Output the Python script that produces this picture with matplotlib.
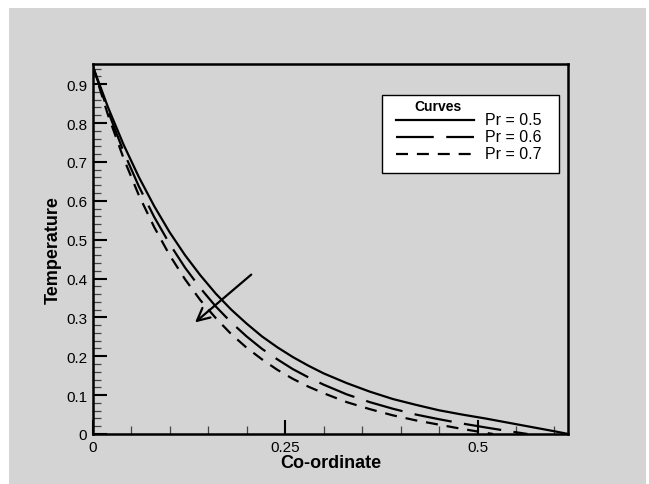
import matplotlib
matplotlib.use('Agg')
import matplotlib.pyplot as plt
import matplotlib.patches as mpatches
import matplotlib.lines as mlines
from matplotlib.ticker import MultipleLocator, FormatStrFormatter

plt.rcParams['font.family'] = ['Liberation Sans', 'DejaVu Sans']

# Temperature profiles
x_pr05 = [0.0, 0.02, 0.04, 0.06, 0.08, 0.10, 0.12, 0.14, 0.16, 0.18, 0.20, 0.22, 0.24,
          0.26, 0.28, 0.30, 0.33, 0.36, 0.39, 0.42, 0.45, 0.48, 0.51, 0.54, 0.57, 0.60, 0.618]
t_pr05 = [0.947, 0.840, 0.745, 0.661, 0.586, 0.519, 0.460, 0.408, 0.361, 0.320, 0.284, 0.251,
          0.223, 0.198, 0.176, 0.156, 0.131, 0.109, 0.090, 0.075, 0.061, 0.050, 0.040,
          0.029, 0.018, 0.007, 0.0]

x_pr06 = [0.0, 0.02, 0.04, 0.06, 0.08, 0.10, 0.12, 0.14, 0.16, 0.18, 0.20, 0.22, 0.24,
          0.26, 0.28, 0.30, 0.33, 0.36, 0.39, 0.42, 0.45, 0.48, 0.51, 0.54, 0.565]
t_pr06 = [0.947, 0.830, 0.727, 0.637, 0.558, 0.489, 0.428, 0.375, 0.328, 0.287, 0.251, 0.219,
          0.192, 0.167, 0.146, 0.127, 0.102, 0.082, 0.065, 0.050, 0.038, 0.027, 0.017,
          0.0075, 0.0]

x_pr07 = [0.0, 0.02, 0.04, 0.06, 0.08, 0.10, 0.12, 0.14, 0.16, 0.18, 0.20, 0.22, 0.24,
          0.26, 0.28, 0.30, 0.33, 0.36, 0.39, 0.42, 0.45, 0.48, 0.50, 0.52]
t_pr07 = [0.947, 0.820, 0.710, 0.614, 0.532, 0.460, 0.398, 0.344, 0.298, 0.257, 0.222, 0.192,
          0.165, 0.142, 0.122, 0.105, 0.082, 0.064, 0.048, 0.035, 0.024, 0.013, 0.0065, 0.0]

labels = ['Pr = 0.5', 'Pr = 0.6', 'Pr = 0.7']
legend_title = 'Curves'

# arrow showing increasing Pr
arrow_start = (0.206, 0.41)
arrow_end = (0.133, 0.287)

bg = '#d4d4d4'
lw = 1.6
styles = [dict(), dict(dashes=(17, 5.6)), dict(dashes=(5.4, 4.0))]

fig = plt.figure(figsize=(6.49, 4.85), dpi=100, facecolor='white')
# gray page with thin white strips at left/top/right
fig.patches.append(mpatches.Rectangle((9 / 649, 0), (646 - 9) / 649, 1 - 9 / 485,
                                      transform=fig.transFigure, facecolor=bg,
                                      edgecolor='none', zorder=-10))

ax = fig.add_axes([0.1428, 0.1031, 0.7329, 0.763])
ax.set_facecolor(bg)

ax.plot(x_pr05, t_pr05, color='black', lw=lw, **styles[0])
ax.plot(x_pr06, t_pr06, color='black', lw=lw, **styles[1])
ax.plot(x_pr07, t_pr07, color='black', lw=lw, **styles[2])

ax.annotate('', xy=arrow_end, xytext=arrow_start,
            arrowprops=dict(arrowstyle='->,head_length=0.9,head_width=0.45',
                            color='black', lw=1.6, shrinkA=0, shrinkB=0))

ax.set_xlim(0, 0.618)
ax.set_ylim(0, 0.952)

ax.xaxis.set_major_locator(MultipleLocator(0.25))
ax.xaxis.set_minor_locator(MultipleLocator(0.05))
ax.yaxis.set_major_locator(MultipleLocator(0.1))
ax.yaxis.set_minor_locator(MultipleLocator(0.02))
ax.xaxis.set_major_formatter(FormatStrFormatter('%g'))
ax.yaxis.set_major_formatter(FormatStrFormatter('%g'))

ax.tick_params(which='major', direction='in', length=10, width=1.5,
               labelsize=11, top=False, right=False, pad=4)
ax.tick_params(which='minor', direction='in', length=6, width=0.9,
               color='#444444', top=False, right=False)
for s in ax.spines.values():
    s.set_linewidth(1.8)

ax.set_xlabel('Co-ordinate', fontsize=13, fontweight='bold', labelpad=0)
ax.set_ylabel('Temperature', fontsize=13, fontweight='bold', labelpad=3)

# legend box drawn by hand (Tecplot style)
box = mpatches.Rectangle((0.6083, 0.7054), 0.372, 0.2108, transform=ax.transAxes,
                         facecolor='white', edgecolor='black', lw=1.0, zorder=5)
ax.add_patch(box)
ax.text(0.725, 0.8865, legend_title, transform=ax.transAxes, ha='center', va='center',
        fontsize=10, fontweight='bold', zorder=6)
row_y = [0.8486, 0.8027, 0.7568]
for lab, st, yy in zip(labels, styles, row_y):
    ax.add_line(mlines.Line2D([0.6369, 0.8017], [yy, yy], transform=ax.transAxes,
                              color='black', lw=lw, zorder=6, **st))
    ax.text(0.8249, yy, lab, transform=ax.transAxes, ha='left', va='center',
            fontsize=11.5, zorder=6)

fig.savefig('out.png', dpi=100, facecolor=fig.get_facecolor())
